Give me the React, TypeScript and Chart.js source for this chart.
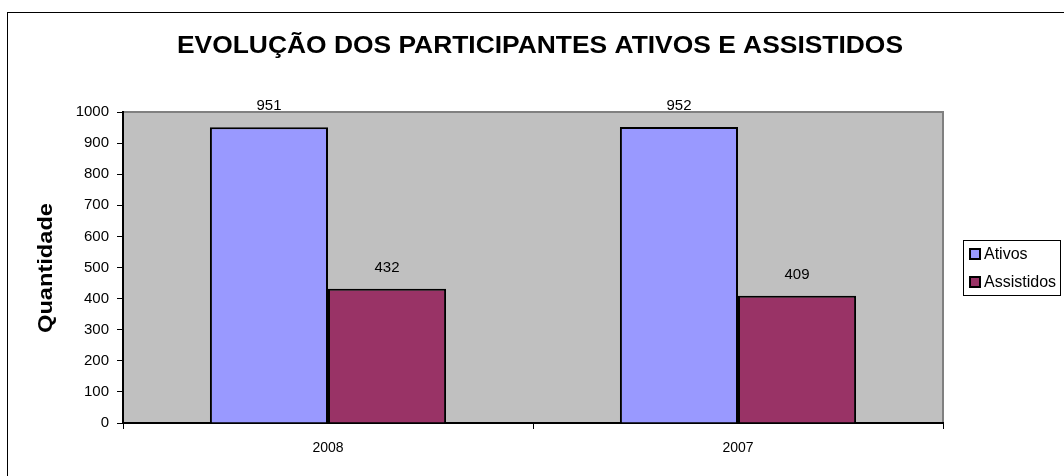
import React, { useEffect, useRef } from "react";
import { Chart, registerables } from "chart.js";

Chart.register(...registerables);

const categories = ["2008", "2007"];
const ativos = [951, 952];
const assistidos = [432, 409];
const seriesNames = ["Ativos", "Assistidos"];
const seriesColors = ["#9999FF", "#993366"];
const yTicks = [0, 100, 200, 300, 400, 500, 600, 700, 800, 900, 1000];
const titleText = "EVOLUÇÃO DOS PARTICIPANTES ATIVOS E ASSISTIDOS";
const yTitle = "Quantidade";

const FONT = "Arial, 'Liberation Sans', sans-serif";

function fitText(ctx: any, text: string, x: number, y: number, targetW: number) {
  const w = ctx.measureText(text).width;
  const sx = targetW / w;
  ctx.save();
  ctx.translate(x, y);
  ctx.scale(sx, 1);
  ctx.fillText(text, 0, 0);
  ctx.restore();
}

const decorPlugin = {
  id: "decor",
  beforeDraw(chart: any) {
    const { ctx, chartArea } = chart;
    ctx.save();
    ctx.fillStyle = "#ffffff";
    ctx.fillRect(0, 0, chart.width, chart.height);
    // outer border
    ctx.strokeStyle = "#000000";
    ctx.lineWidth = 1;
    ctx.strokeRect(7.5, 12.5, 1070, 480);
    // plot background
    ctx.fillStyle = "#C0C0C0";
    ctx.fillRect(chartArea.left, chartArea.top, chartArea.right - chartArea.left, chartArea.bottom - chartArea.top);
    ctx.strokeStyle = "#808080";
    ctx.lineWidth = 2;
    ctx.beginPath();
    ctx.moveTo(chartArea.left, chartArea.top);
    ctx.lineTo(chartArea.right, chartArea.top);
    ctx.lineTo(chartArea.right, chartArea.bottom);
    ctx.stroke();
    // title
    ctx.fillStyle = "#000000";
    ctx.font = "bold 24px " + FONT;
    ctx.textAlign = "center";
    ctx.textBaseline = "middle";
    fitText(ctx, titleText, 540, 46, 726);
    // y title
    ctx.save();
    ctx.translate(46, 268);
    ctx.rotate(-Math.PI / 2);
    ctx.font = "bold 20px " + FONT;
    fitText(ctx, yTitle, 0, 0, 130);
    ctx.restore();
    // legend
    ctx.strokeStyle = "#000000";
    ctx.lineWidth = 1;
    ctx.strokeRect(963.5, 240.5, 97, 55);
    ctx.font = "16px " + FONT;
    ctx.textAlign = "left";
    seriesNames.forEach((n, i) => {
      const y = 254 + i * 28;
      ctx.fillStyle = seriesColors[i];
      ctx.fillRect(970, y - 5, 10, 10);
      ctx.strokeStyle = "#000000";
      ctx.lineWidth = 2;
      ctx.strokeRect(970, y - 5, 10, 10);
      ctx.fillStyle = "#000000";
      ctx.fillText(n, 984, y + 1);
    });
    ctx.restore();
  },
  afterDatasetsDraw(chart: any) {
    const { ctx } = chart;
    ctx.save();
    ctx.fillStyle = "#000000";
    ctx.font = "15px " + FONT;
    ctx.textAlign = "center";
    ctx.textBaseline = "middle";
    chart.data.datasets.forEach((ds: any, di: number) => {
      const meta = chart.getDatasetMeta(di);
      meta.data.forEach((bar: any, i: number) => {
        ctx.fillText(String(ds.data[i]), bar.x, bar.y - 21);
      });
    });
    ctx.restore();
  },
};

export default function App() {
  const ref = useRef<HTMLCanvasElement>(null);
  useEffect(() => {
    document.body.style.margin = "0";
    const chart = new Chart(ref.current!, {
      type: "bar",
      data: {
        labels: categories,
        datasets: [
          { label: seriesNames[0], data: ativos, backgroundColor: seriesColors[0], borderColor: "#000000", borderWidth: 2 },
          { label: seriesNames[1], data: assistidos, backgroundColor: seriesColors[1], borderColor: "#000000", borderWidth: 2 },
        ],
      },
      options: {
        animation: false,
        responsive: false,
        maintainAspectRatio: false,
        layout: { padding: { top: 112, right: 121, left: 0, bottom: 0 } },
        plugins: { legend: { display: false }, title: { display: false }, tooltip: { enabled: false } },
        datasets: { bar: { categoryPercentage: 0.576, barPercentage: 1 } },
        scales: {
          x: {
            afterFit: (s: any) => { s.height = 53; },
            grid: { display: true, drawOnChartArea: false, drawTicks: true, tickLength: 6, color: "#000000", offset: true },
            border: { display: true, color: "#000000", width: 2 },
            ticks: { color: "#000000", font: { family: FONT, size: 14 }, padding: 11 },
          },
          y: {
            min: 0,
            max: 1000,
            afterFit: (s: any) => { s.width = 123; },
            afterBuildTicks: (s: any) => { s.ticks = yTicks.map((v) => ({ value: v })); },
            grid: { display: true, drawOnChartArea: false, drawTicks: true, tickLength: 6, color: "#000000" },
            border: { display: true, color: "#000000", width: 2 },
            ticks: { color: "#000000", font: { family: FONT, size: 15 }, padding: 8, callback: (v: any) => String(v) },
          },
        },
      },
      plugins: [decorPlugin],
    });
    return () => chart.destroy();
  }, []);
  return <canvas ref={ref} width={1064} height={476} style={{ display: "block" }} />;
}
